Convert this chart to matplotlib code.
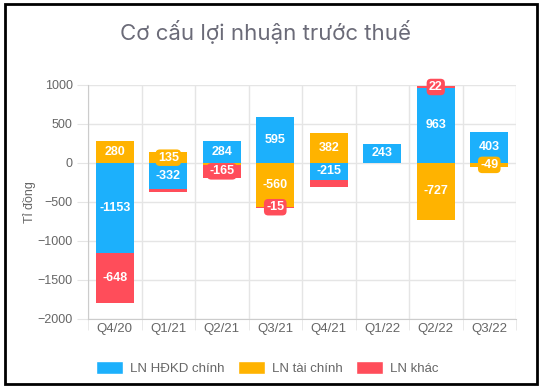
import numpy as np
import matplotlib
matplotlib.use("Agg")
import matplotlib.pyplot as plt
from matplotlib.patches import Patch, Rectangle

quarters = ["Q4/20", "Q1/21", "Q2/21", "Q3/21", "Q4/21", "Q1/22", "Q2/22", "Q3/22"]
hdkd = [-1153, -332, 284, 595, -215, 243, 963, 403]
taichinh = [280, 135, -25, -560, 382, 0, -727, -49]
khac = [-648, -40, -165, -15, -95, -4, 22, -5]
# which data labels the original chart shows
show_hdkd = [True] * 8
show_tc = [True, True, False, True, True, False, True, True]
show_khac = [True, False, True, True, False, False, True, False]

names = ["LN HĐKD chính", "LN tài chính", "LN khác"]
colors = ["#1cb0fc", "#ffb300", "#ff4d5a"]

plt.rcParams["font.family"] = ["Liberation Sans", "DejaVu Sans"]
grey = "#666666"

fig = plt.figure(figsize=(5.45, 3.88), dpi=100)
ax = fig.add_axes([0.1615, 0.178, 0.7853, 0.603])

x = np.arange(len(quarters))
pos = np.zeros(len(quarters))
neg = np.zeros(len(quarters))
series = [(hdkd, show_hdkd), (taichinh, show_tc), (khac, show_khac)]
for (vals, show), c, name in zip(series, colors, names):
    vals = np.array(vals, dtype=float)
    bottom = np.where(vals >= 0, pos, neg)
    ax.bar(x, vals, 0.71, bottom=bottom, color=c, label=name, zorder=3)
    for xi, b, v, s in zip(x, bottom, vals, show):
        if s:
            ax.text(xi, b + v / 2, f"{int(v)}", ha="center", va="center",
                    color="white", fontsize=9, fontweight="bold", zorder=5,
                    bbox=dict(boxstyle="round,pad=0.18,rounding_size=0.35",
                              fc=c, ec="none"))
    pos = np.where(vals >= 0, pos + vals, pos)
    neg = np.where(vals < 0, neg + vals, neg)

ax.set_xlim(-0.5, 7.5)
ax.set_ylim(-2000, 1000)
ax.set_yticks(np.arange(-2000, 1001, 500))
ax.set_xticks(x)
ax.set_xticklabels(quarters)
ax.set_xticks(np.arange(-0.5, 8, 1), minor=True)
ax.grid(axis="y", color="#e5e5e5", lw=1, zorder=0)
ax.grid(axis="x", which="minor", color="#e5e5e5", lw=1, zorder=0)
ax.tick_params(axis="x", which="major", length=0, pad=3, labelsize=9.5, labelcolor=grey)
ax.tick_params(axis="x", which="minor", length=8, color="#e5e5e5")
ax.tick_params(axis="y", length=8, color="#e5e5e5", pad=3, labelsize=9, labelcolor=grey)
for s in ["top", "right"]:
    ax.spines[s].set_visible(False)
for s in ["left", "bottom"]:
    ax.spines[s].set_color("#cccccc")
ax.set_ylabel("Tỉ đồng", color=grey, fontsize=9, labelpad=1)

fig.text(0.487, 0.918, "Cơ cấu lợi nhuận trước thuế", ha="center", va="center",
         fontsize=16, color="#6b6b78", family=["Inter", "DejaVu Sans"])

handles = [Patch(facecolor=c, edgecolor="white") for c in colors]
fig.legend(handles, names, loc="center", bbox_to_anchor=(0.49, 0.051), ncol=3,
           frameon=False, fontsize=9.5, labelcolor=grey, handlelength=2.1,
           handleheight=1.1, handletextpad=0.5, columnspacing=1.0)

fig.patches.append(Rectangle((5 / 545, 4 / 388), 532 / 545, 380 / 388,
                             transform=fig.transFigure, fill=False,
                             ec="black", lw=2))

fig.savefig("out.png", dpi=100)
